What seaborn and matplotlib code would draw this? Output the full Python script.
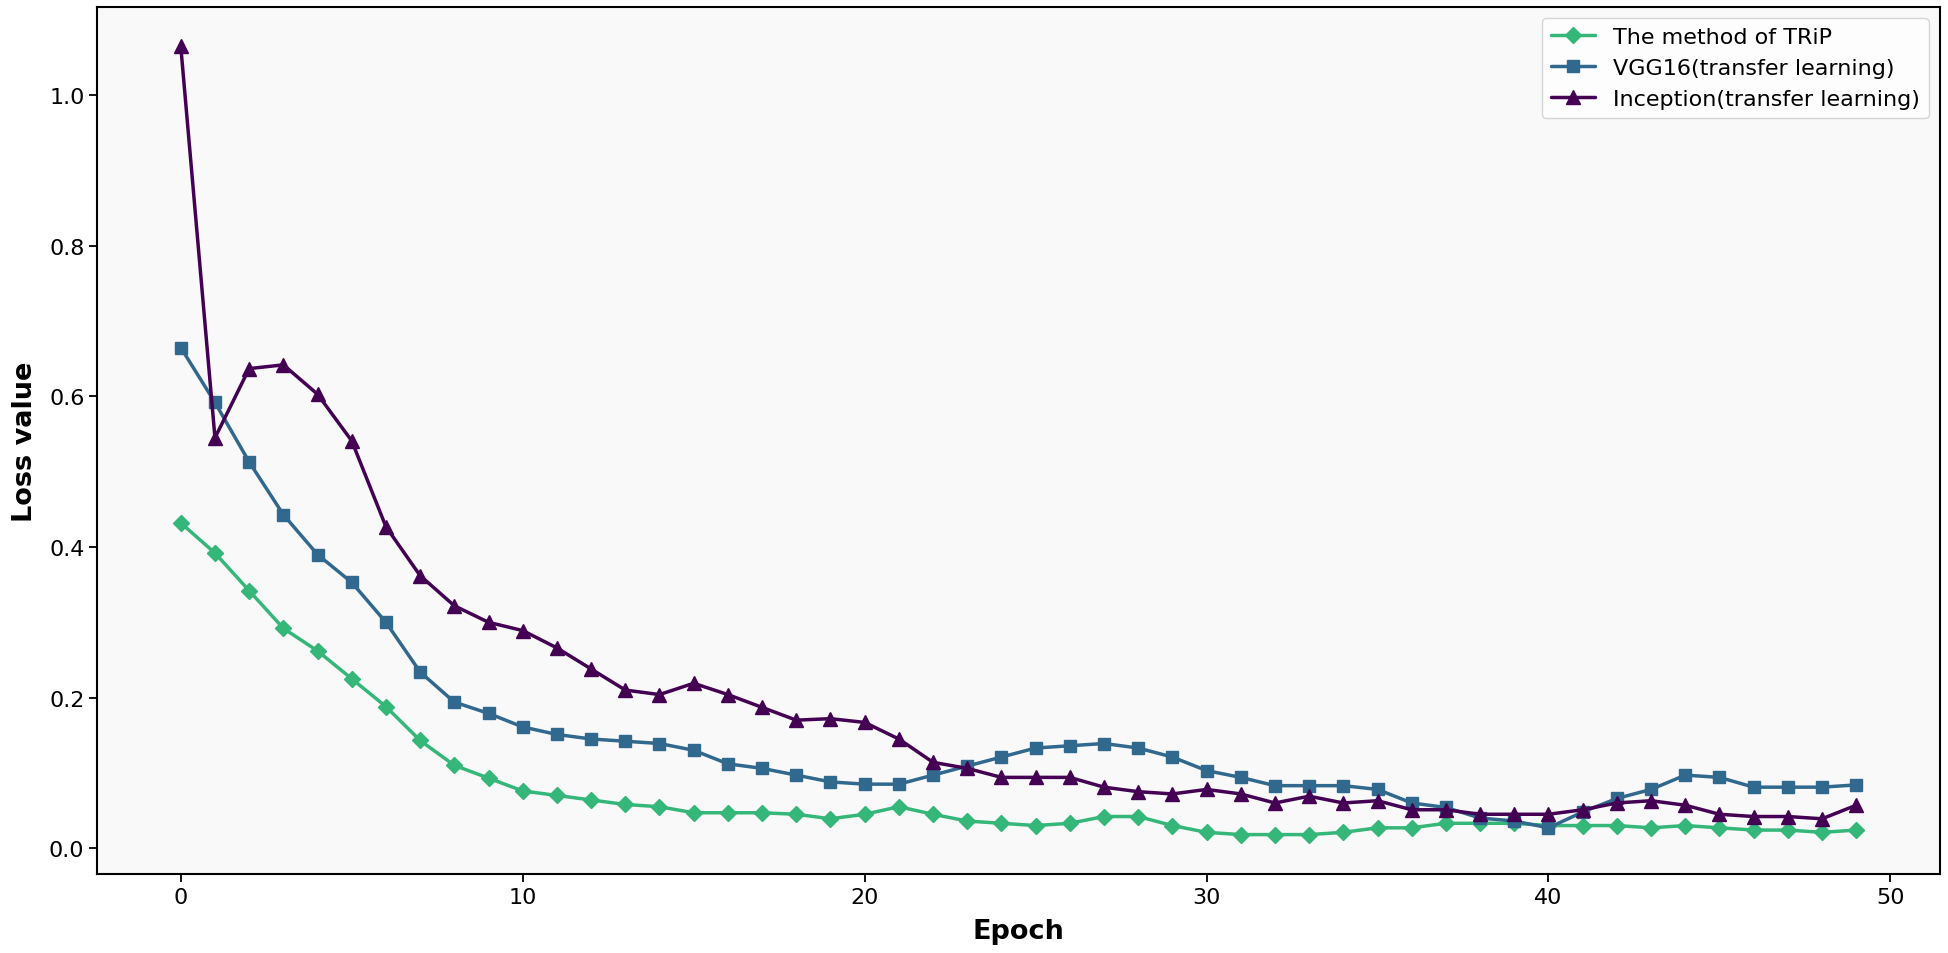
import numpy as np
import pandas as pd
import matplotlib
matplotlib.use("Agg")
import matplotlib.pyplot as plt
import seaborn as sns

sns.set_style("white")
plt.rcParams['font.family'] = ['DejaVu Sans']
plt.rcParams['text.color'] = 'black'
plt.rcParams['axes.labelcolor'] = 'black'
plt.rcParams['xtick.color'] = 'black'
plt.rcParams['ytick.color'] = 'black'

epochs = list(range(50))

trip_loss = [0.432, 0.392, 0.342, 0.292, 0.262, 0.225, 0.188, 0.143, 0.110, 0.093,
             0.076, 0.070, 0.064, 0.058, 0.055, 0.047, 0.047, 0.047, 0.045, 0.039,
             0.045, 0.055, 0.045, 0.036, 0.033, 0.030, 0.033, 0.042, 0.042, 0.030,
             0.021, 0.018, 0.018, 0.018, 0.021, 0.027, 0.027, 0.033, 0.033, 0.033,
             0.030, 0.030, 0.030, 0.027, 0.030, 0.027, 0.024, 0.024, 0.021, 0.024]

vgg16_loss = [0.665, 0.592, 0.513, 0.443, 0.390, 0.353, 0.300, 0.234, 0.194, 0.179,
              0.161, 0.151, 0.145, 0.142, 0.139, 0.130, 0.112, 0.106, 0.097, 0.088,
              0.085, 0.085, 0.097, 0.109, 0.121, 0.133, 0.136, 0.139, 0.133, 0.121,
              0.103, 0.094, 0.083, 0.083, 0.083, 0.078, 0.060, 0.054, 0.040, 0.036,
              0.027, 0.048, 0.066, 0.078, 0.097, 0.094, 0.081, 0.081, 0.081, 0.084]

inception_loss = [1.065, 0.545, 0.637, 0.642, 0.603, 0.541, 0.427, 0.362, 0.322, 0.300,
                  0.289, 0.266, 0.238, 0.210, 0.204, 0.219, 0.204, 0.187, 0.170, 0.172,
                  0.167, 0.145, 0.114, 0.106, 0.094, 0.094, 0.094, 0.081, 0.075, 0.072,
                  0.078, 0.072, 0.060, 0.069, 0.060, 0.063, 0.051, 0.051, 0.045, 0.045,
                  0.045, 0.051, 0.060, 0.063, 0.057, 0.045, 0.042, 0.042, 0.039, 0.057]

labels = ['The method of TRiP', 'VGG16(transfer learning)', 'Inception(transfer learning)']
colors = ['#35b779', '#31688e', '#440154']
markers = ['D', 's', '^']
msizes = [8.5, 9, 10]

fig, ax = plt.subplots(figsize=(19.49, 9.54), dpi=100)
ax.set_facecolor('#f9f9f9')

for y, lab, c, m, ms in zip([trip_loss, vgg16_loss, inception_loss], labels, colors, markers, msizes):
    sns.lineplot(x=epochs, y=y, ax=ax, color=c, marker=m, markersize=ms,
                 markeredgecolor=c, markeredgewidth=1, linewidth=2.5, label=lab)

ax.set_xlabel('Epoch', fontsize=19.5, fontweight='bold', labelpad=8)
ax.set_ylabel('Loss value', fontsize=19.5, fontweight='bold', labelpad=8)
ax.tick_params(axis='both', labelsize=16, length=5.5, width=1.3, left=True, bottom=True)
for s in ax.spines.values():
    s.set_color('black')
    s.set_linewidth(1.5)

ax.legend(loc='upper right', fontsize=16, frameon=True)

fig.subplots_adjust(left=97/1949, right=1940/1949, top=1-8/954, bottom=1-875/954)
fig.savefig('out.png', dpi=100, facecolor='white')
